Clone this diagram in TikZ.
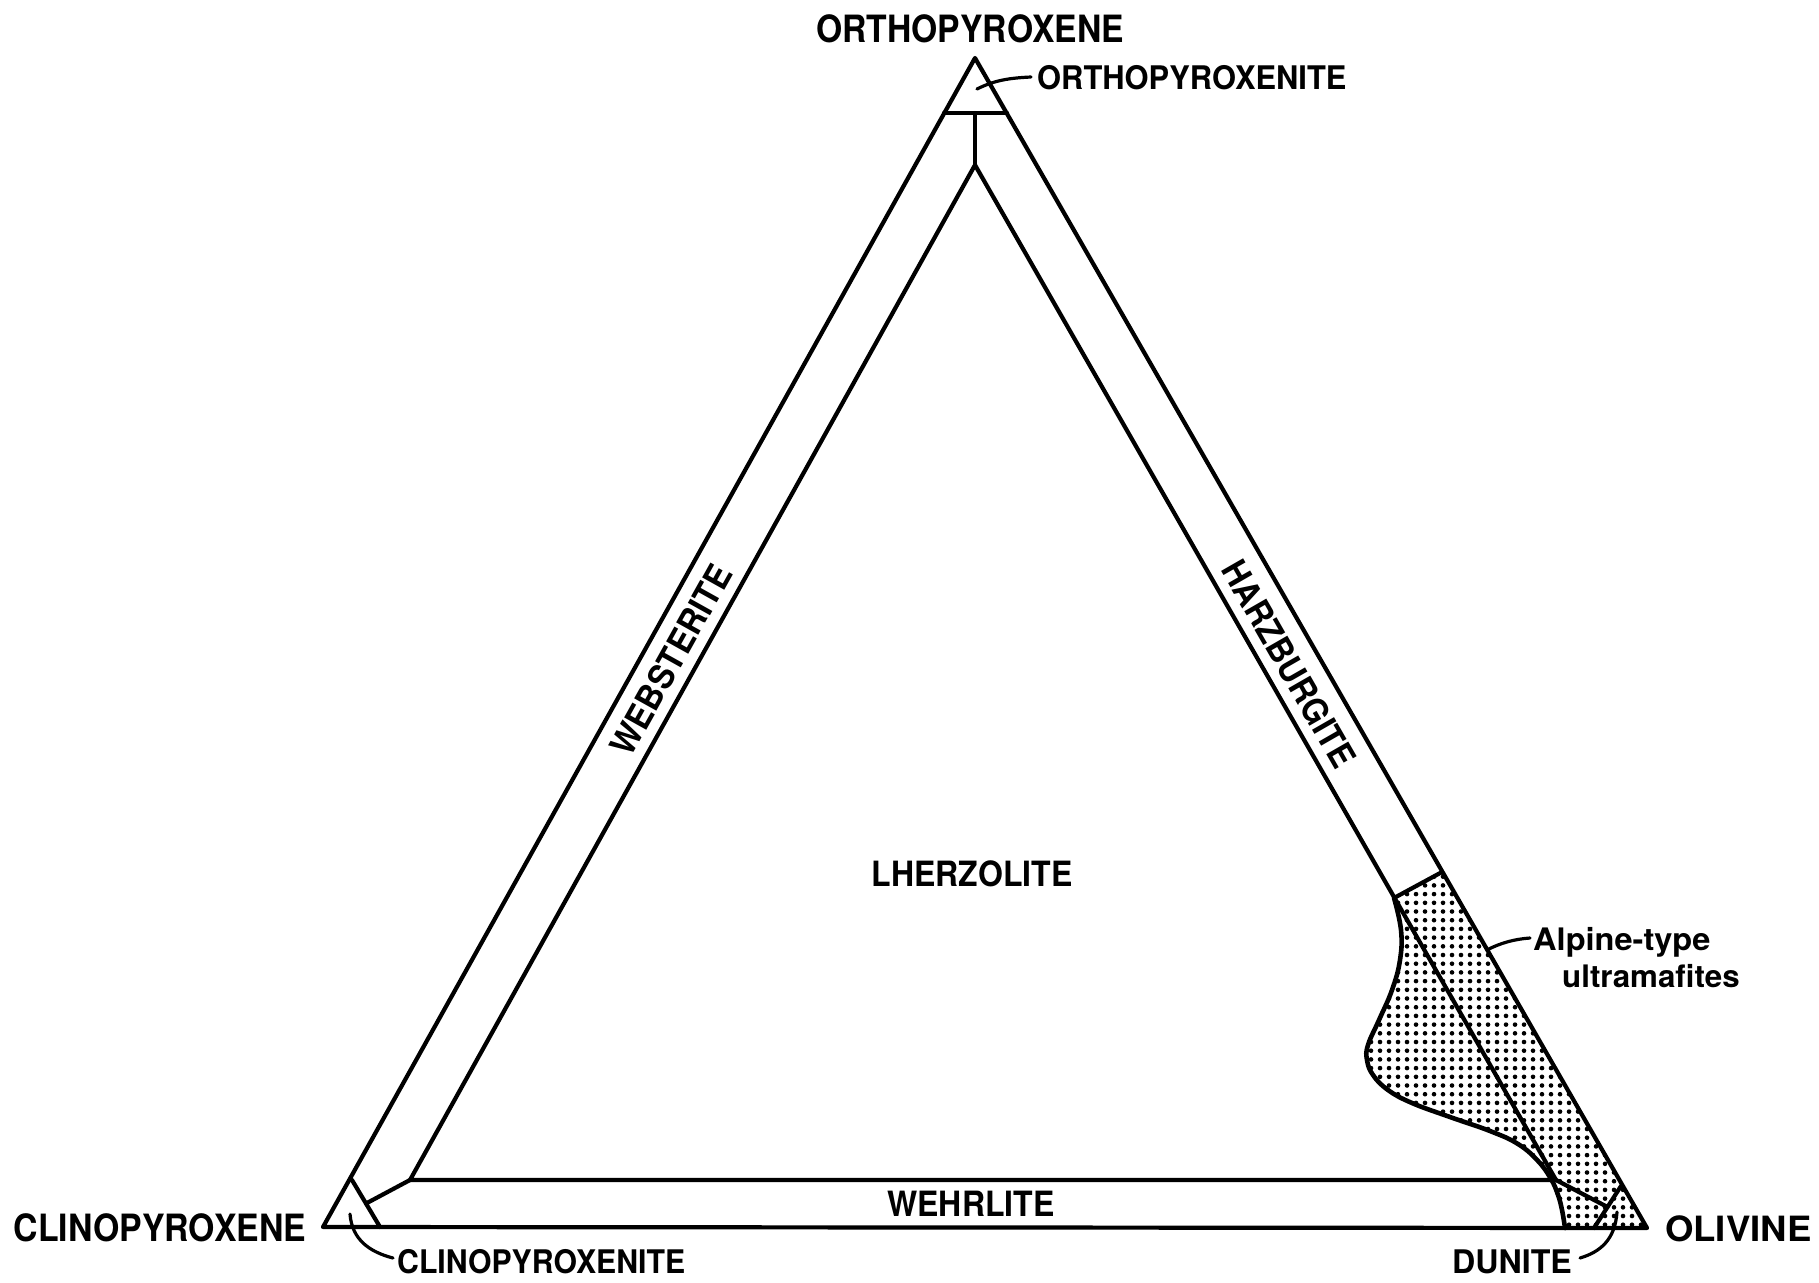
\documentclass[tikz,border=0pt]{standalone}
\usepackage{fontspec}
\setmainfont{TeX Gyre Heros}
\begin{document}
\begin{tikzpicture}[x=1pt,y=-1pt,line join=round,line cap=round,
  edge/.style={line width=4.2pt},
  curveline/.style={line width=4.6pt},
  lead/.style={line width=3.2pt},
  lbl/.style={inner sep=0pt},
  fa/.style={font=\bfseries\fontsize{37.6}{40}\selectfont},
  fb/.style={font=\bfseries\fontsize{34.8}{38}\selectfont},
  fc/.style={font=\bfseries\fontsize{32.5}{36}\selectfont},
  fd/.style={font=\bfseries\fontsize{31}{34}\selectfont}]
\useasboundingbox (0,0) rectangle (1819,1282);
% vertices
\coordinate (O) at (975,58);
\coordinate (C) at (323,1227);
\coordinate (V) at (1647,1228);
% small corner triangles
\coordinate (ot1) at (944,113);
\coordinate (ot2) at (1007,113);
\coordinate (otm) at (975,113);
\coordinate (ct1) at (352,1180);
\coordinate (ct2) at (380,1227);
\coordinate (ctm) at (366,1203.5);
\coordinate (vt1) at (1621,1186);
\coordinate (vt2) at (1594,1228);
\coordinate (vtm) at (1607.5,1207);
% inner triangle
\coordinate (ia) at (975,165);
\coordinate (ic) at (410,1180);
\coordinate (iv) at (1556,1180);
% harzburgite cross line
\coordinate (h1) at (1394,898);
\coordinate (h2) at (1442,872);

% dotted field
\begin{scope}
\clip plot[smooth,tension=0.7] coordinates {(1394,898) (1401,930) (1400,960) (1392,990) (1379,1020) (1368,1045) (1367,1060) (1373,1075) (1388,1090) (1412,1103) (1450,1117) (1490,1131) (1518,1144) (1538,1161) (1551,1179) (1558,1195) (1562,1210) (1565,1228)} -- (V) -- (h2) -- cycle;
\foreach \i in {0,...,33}{
  \foreach \j in {0,...,42}{
    \fill (1362+9*\i,868+8.7*\j) circle[radius=2.3];
  }
}
\end{scope}

\draw[edge] (O) -- (C) -- (V) -- cycle;
\draw[edge] (ot1) -- (ot2);
\draw[edge] (otm) -- (ia);
\draw[edge] (ct1) -- (ct2);
\draw[edge] (ctm) -- (ic);
\draw[edge] (vt1) -- (vt2);
\draw[edge] (iv) -- (vtm);
\draw[edge] (ic) -- (ia) -- (iv) -- cycle;
\draw[edge] (h1) -- (h2);
\draw[curveline] plot[smooth,tension=0.7] coordinates {(1394,898) (1401,930) (1400,960) (1392,990) (1379,1020) (1368,1045) (1367,1060) (1373,1075) (1388,1090) (1412,1103) (1450,1117) (1490,1131) (1518,1144) (1538,1161) (1551,1179) (1558,1195) (1562,1210) (1565,1228)};

% labels
\node[lbl,fa] (opx) at (970,28.5) {\scalebox{0.896}[1]{ORTHOPYROXENE}};
\node[lbl,fc,anchor=west] (opxite) at (1037,78) {\scalebox{0.95}[1]{ORTHOPYROXENITE}};
\node[lbl,fa] (cpx) at (160,1228) {\scalebox{0.9}[1]{CLINOPYROXENE}};
\node[lbl,fc,anchor=west] (cpxite) at (397,1262) {\scalebox{0.93}[1]{CLINOPYROXENITE}};
\node[lbl,fb,anchor=west] (ol) at (1665,1229) {\scalebox{1.05}[1]{OLIVINE}};
\node[lbl,fc] (dun) at (1512,1262) {\scalebox{0.99}[1]{DUNITE}};
\node[lbl,fb] (weh) at (971,1204) {\scalebox{0.92}[1]{WEHRLITE}};
\node[lbl,fb] (lhz) at (972,874) {\scalebox{0.92}[1]{LHERZOLITE}};
\node[lbl,fb,rotate=60.85] (web) at (671,660) {\scalebox{0.93}[1]{WEBSTERITE}};
\node[lbl,fb,rotate=-60.13] (harz) at (1289,664) {\scalebox{0.92}[1]{HARZBURGITE}};
\node[lbl,fd,anchor=base west] (alp) at (1533,950) {\scalebox{1.05}[1]{Alpine-type}};
\node[lbl,fd,anchor=base west] (ult) at (1562,987) {\scalebox{1.01}[1]{ultramafites}};

% leaders
\coordinate (l1a) at (977,89);
\coordinate (l1b) at (1031,77);
\draw[lead] (l1a) .. controls (995,80) and (1010,78) .. (l1b);
\coordinate (l2a) at (350,1214);
\coordinate (l2b) at (393,1258);
\draw[lead] (l2a) .. controls (352,1240) and (370,1252) .. (l2b);
\coordinate (l3a) at (1617,1212);
\coordinate (l3b) at (1580,1258);
\draw[lead] (l3a) .. controls (1615,1240) and (1600,1252) .. (l3b);
\coordinate (l4a) at (1487,950);
\coordinate (l4b) at (1530,938);
\draw[lead] (l4a) .. controls (1500,943) and (1515,939) .. (l4b);
\end{tikzpicture}
\end{document}
